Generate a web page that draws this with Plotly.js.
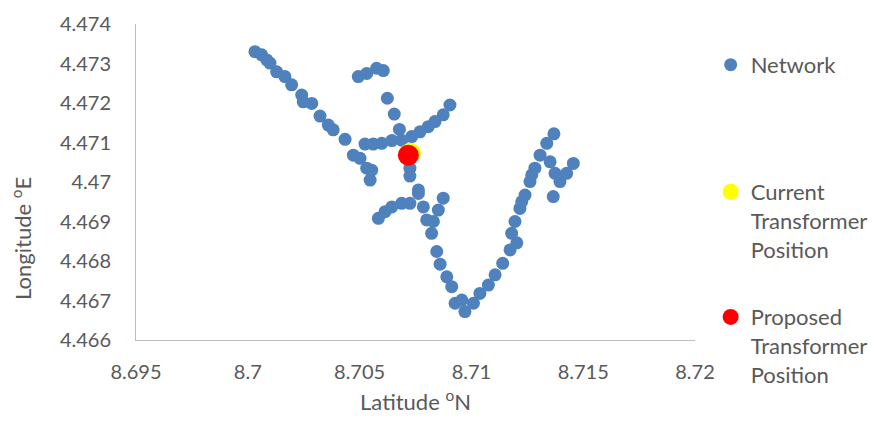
<!DOCTYPE html>
<html>
<head>
<meta charset="utf-8">
<script src="https://cdn.plot.ly/plotly-3.0.1.min.js"></script>
<style>html,body{margin:0;padding:0;background:#fff;}#chart{width:875px;height:422px;}</style>
</head>
<body>
<div id="chart"></div>
<script>
// Network points (latitude, longitude)
var networkLat = [8.70032, 8.70062, 8.70085, 8.70099, 8.70129, 8.70166, 8.70196, 8.70241, 8.70248, 8.70286,
  8.70323, 8.70360, 8.70382, 8.70435, 8.70472, 8.70502, 8.70532, 8.70554, 8.70547,
  8.70494, 8.70532, 8.70576, 8.70606,
  8.70624, 8.70655, 8.70678,
  8.70524, 8.70561, 8.70599, 8.70644, 8.70688, 8.70733, 8.70770, 8.70807, 8.70837, 8.70874, 8.70904,
  8.70725, 8.70725, 8.70763, 8.70763, 8.70785, 8.70725, 8.70688, 8.70644, 8.70614, 8.70584,
  8.70800, 8.70822, 8.70830, 8.70852, 8.70874,
  8.70845, 8.70860, 8.70890, 8.70912, 8.70927, 8.70957, 8.70971, 8.71009, 8.71038, 8.71076, 8.71106,
  8.71140, 8.71173, 8.71203, 8.71180, 8.71195, 8.71217, 8.71225, 8.71240, 8.71262, 8.71270, 8.71284,
  8.71307, 8.71337, 8.71369, 8.71352, 8.71374, 8.71366, 8.71396, 8.71426, 8.71456];
var networkLon = [4.47330, 4.47322, 4.47309, 4.47301, 4.47279, 4.47267, 4.47246, 4.47220, 4.47203, 4.47199,
  4.47167, 4.47144, 4.47132, 4.47108, 4.47068, 4.47060, 4.47035, 4.47030, 4.47005,
  4.47267, 4.47275, 4.47288, 4.47282,
  4.47212, 4.47172, 4.47133,
  4.47096, 4.47096, 4.47098, 4.47105, 4.47106, 4.47115, 4.47127, 4.47140, 4.47153, 4.47170, 4.47195,
  4.47035, 4.47015, 4.46980, 4.46971, 4.46937, 4.46946, 4.46946, 4.46937, 4.46925, 4.46908,
  4.46904, 4.46870, 4.46900, 4.46929, 4.46959,
  4.46824, 4.46792, 4.46760, 4.46735, 4.46693, 4.46701, 4.46672, 4.46693, 4.46718, 4.46739, 4.46765,
  4.46794, 4.46828, 4.46846, 4.46870, 4.46900, 4.46933, 4.46950, 4.46967, 4.47001, 4.47018, 4.47035,
  4.47068, 4.47098, 4.47122, 4.47051, 4.47022, 4.46963, 4.47001, 4.47022, 4.47047];

var currentLat = [8.70727];
var currentLon = [4.47073];
var proposedLat = [8.70718];
var proposedLon = [4.47068];

var xTickVals = [8.695, 8.7, 8.705, 8.71, 8.715, 8.72];
var xTickText = ["8.695", "8.7", "8.705", "8.71", "8.715", "8.72"];
var yTickVals = [4.466, 4.467, 4.468, 4.469, 4.47, 4.471, 4.472, 4.473, 4.474];
var yTickText = ["4.466", "4.467", "4.468", "4.469", "4.47", "4.471", "4.472", "4.473", "4.474"];

var seriesNames = ["Network", "Current<br>Transformer<br>Position", "Proposed<br>Transformer<br>Position"];

var FONT = "Lato, 'Noto Sans', sans-serif";
var TXT = "#595959";
var LEGFONT = {family: FONT, size: 22, color: TXT};

var traces = [
  {x: networkLat, y: networkLon, type: "scatter", mode: "markers", name: seriesNames[0], legend: "legend",
   marker: {color: "#4F81BD", size: 13, line: {width: 0}}},
  {x: currentLat, y: currentLon, type: "scatter", mode: "markers", name: seriesNames[1], legend: "legend2",
   marker: {color: "#FFFF00", size: 21, line: {width: 0}}},
  {x: proposedLat, y: proposedLon, type: "scatter", mode: "markers", name: seriesNames[2], legend: "legend3",
   marker: {color: "#FF0000", size: 21, line: {width: 0}}}
];

function leg(y) {
  return {x: 1.028, xanchor: "left", y: y, yanchor: "top", valign: "top",
    font: LEGFONT, bgcolor: "rgba(0,0,0,0)", itemsizing: "trace"};
}

var layout = {
  width: 875, height: 422,
  margin: {l: 136, r: 180, t: 24, b: 82, autoexpand: false},
  paper_bgcolor: "#ffffff", plot_bgcolor: "#ffffff",
  font: {family: FONT, size: 20, color: TXT},
  showlegend: true,
  legend: leg(0.937),
  legend2: leg(0.535),
  legend3: leg(0.139),
  xaxis: {range: [8.695, 8.72], tickmode: "array", tickvals: xTickVals, ticktext: xTickText,
    showgrid: false, zeroline: false, showline: true, linecolor: "#BFBFBF", linewidth: 1,
    ticks: "", ticklabelstandoff: 14, tickfont: {family: FONT, size: 20, color: TXT},
    title: {text: "Latitude <sup>o</sup>N", font: {family: FONT, size: 22, color: TXT}, standoff: 12},
    automargin: false, fixedrange: true},
  yaxis: {range: [4.466, 4.474], tickmode: "array", tickvals: yTickVals, ticktext: yTickText,
    showgrid: false, zeroline: false, showline: true, linecolor: "#BFBFBF", linewidth: 1,
    ticks: "", ticklabelstandoff: 20, tickfont: {family: FONT, size: 20, color: TXT},
    automargin: false, fixedrange: true},
  annotations: [{text: "Longitude <sup>o</sup>E", xref: "paper", yref: "paper", x: -0.204, y: 0.323,
    xanchor: "center", yanchor: "middle", textangle: -90, showarrow: false,
    font: {family: FONT, size: 22, color: TXT}}]
};

Plotly.newPlot("chart", traces, layout, {displayModeBar: false, staticPlot: true});
</script>
</body>
</html>
